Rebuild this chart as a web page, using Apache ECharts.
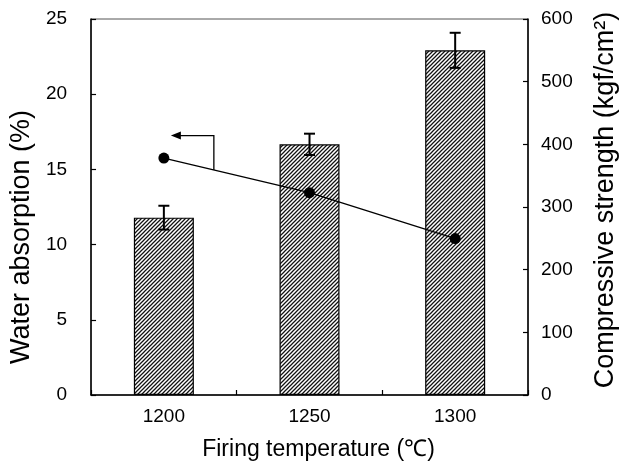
<!DOCTYPE html>
<html><head><meta charset="utf-8">
<script src="https://cdn.jsdelivr.net/npm/echarts@6/dist/echarts.min.js"></script>
<style>html,body{margin:0;padding:0;background:#fff}#c{width:632px;height:466px}</style>
</head><body><div id="c"></div>
<script>
// ---- data ----
const categories = ['1200', '1250', '1300'];
const strength = [283, 400, 550];          // kgf/cm2 (bars, right axis)
const strengthErr = [19, 17, 28];          // error half-widths
const absorption = [15.75, 13.45, 10.4];   // % (line, left axis)
const arrowAnchor = { category: 0, value: 17.25 }; // arrow pointing to left axis

// ---- hatch pattern ----
function makeHatch() {
  const s = 4;
  const cv = document.createElement('canvas');
  cv.width = s; cv.height = s;
  const ctx = cv.getContext('2d');
  ctx.fillStyle = '#fff';
  ctx.fillRect(0, 0, s, s);
  ctx.strokeStyle = '#111';
  ctx.lineWidth = 1.25;
  ctx.beginPath();
  ctx.moveTo(0, s); ctx.lineTo(s, 0);
  ctx.moveTo(-s / 2, s / 2); ctx.lineTo(s / 2, -s / 2);
  ctx.moveTo(s / 2, s * 1.5); ctx.lineTo(s * 1.5, s / 2);
  ctx.stroke();
  return cv;
}

const FONT = 'Liberation Sans, Arial, Helvetica, sans-serif';
const chart = echarts.init(document.getElementById('c'), null, { renderer: 'canvas' });

const axisCommon = {
  axisLine: { show: true, lineStyle: { color: '#000', width: 1.5 } },
  axisTick: { show: true, inside: true, length: 5, lineStyle: { color: '#000', width: 1.2 } },
  splitLine: { show: false },
  nameLocation: 'middle',
};

chart.setOption({
  animation: false,
  backgroundColor: '#fff',
  grid: { left: 88, right: 104, top: 19, bottom: 70, show: true, borderColor: '#555', borderWidth: 1, containLabel: false },
  xAxis: {
    type: 'category',
    data: categories,
    boundaryGap: true,
    axisLine: { show: true, lineStyle: { color: '#000', width: 1.5 } },
    axisTick: { show: true, inside: true, length: 5, lineStyle: { color: '#000', width: 1.2 } },
    axisLabel: { color: '#000', fontSize: 19, margin: 12, fontFamily: FONT },
    name: 'Firing temperature (\u2103)',
    nameLocation: 'middle',
    nameGap: 43,
    nameTextStyle: { color: '#000', fontSize: 23, fontFamily: FONT, padding: [0, 0, 0, 18] },
  },
  yAxis: [
    Object.assign({}, axisCommon, {
      type: 'value', position: 'left', min: 0, max: 25, interval: 5,
      axisLabel: { color: '#000', fontSize: 19, margin: 24, fontFamily: FONT },
      name: 'Water absorption (%)', nameGap: 53,
      nameTextStyle: { color: '#000', fontSize: 27, fontFamily: FONT, padding: [0, 60, 0, 0] },
    }),
    Object.assign({}, axisCommon, {
      type: 'value', position: 'right', min: 0, max: 600, interval: 100,
      axisLabel: { color: '#000', fontSize: 19, margin: 13, fontFamily: FONT },
      name: 'Compressive strength (kgf/cm\u00B2)', nameGap: 64,
      nameTextStyle: { color: '#000', fontSize: 27, fontFamily: FONT, padding: [0, 0, 0, 14] },
    }),
  ],
  series: [
    {
      type: 'bar',
      yAxisIndex: 1,
      data: strength,
      barWidth: 60,
      itemStyle: {
        color: { image: makeHatch(), repeat: 'repeat' },
        borderColor: '#000',
        borderWidth: 1.2,
      },
      z: 2,
    },
    {
      type: 'custom',
      yAxisIndex: 1,
      data: categories.map((c, i) => [i, strength[i], strengthErr[i]]),
      encode: { x: 0, y: 1 },
      renderItem: function (params, api) {
        const x = api.value(0), v = api.value(1), e = api.value(2);
        const top = api.coord([x, v + e]);
        const bot = api.coord([x, v - e]);
        const hw = 5.5;
        const st = { stroke: '#000', lineWidth: 2 };
        return {
          type: 'group',
          children: [
            { type: 'line', shape: { x1: top[0], y1: top[1], x2: bot[0], y2: bot[1] }, style: st },
            { type: 'line', shape: { x1: top[0] - hw, y1: top[1], x2: top[0] + hw, y2: top[1] }, style: st },
            { type: 'line', shape: { x1: bot[0] - hw, y1: bot[1], x2: bot[0] + hw, y2: bot[1] }, style: st },
          ],
        };
      },
      z: 3,
    },
    {
      type: 'line',
      yAxisIndex: 0,
      data: absorption,
      symbol: 'circle',
      symbolSize: 11,
      itemStyle: { color: '#000' },
      lineStyle: { color: '#000', width: 1.3 },
      z: 4,
    },
  ],
});

// ---- arrow annotation (anchored to data through the axes) ----
const p0 = chart.convertToPixel({ xAxisIndex: 0, yAxisIndex: 0 }, [arrowAnchor.category, arrowAnchor.value]);
const l0 = chart.convertToPixel({ xAxisIndex: 0, yAxisIndex: 0 }, [0, absorption[0]]);
const l1 = chart.convertToPixel({ xAxisIndex: 0, yAxisIndex: 0 }, [1, absorption[1]]);
const tipX = p0[0] + 7, elbowX = p0[0] + 50, ay = p0[1];
const yBottom = l0[1] + (elbowX - l0[0]) / (l1[0] - l0[0]) * (l1[1] - l0[1]);
chart.setOption({
  graphic: [
    { type: 'polyline', z: 10, shape: { points: [[tipX + 8, ay], [elbowX, ay], [elbowX, yBottom]] }, style: { stroke: '#000', lineWidth: 1.3, fill: null } },
    { type: 'polygon', z: 10, shape: { points: [[tipX, ay], [tipX + 10, ay - 4], [tipX + 10, ay + 4]] }, style: { fill: '#000' } },
  ],
});
</script>
</body></html>
